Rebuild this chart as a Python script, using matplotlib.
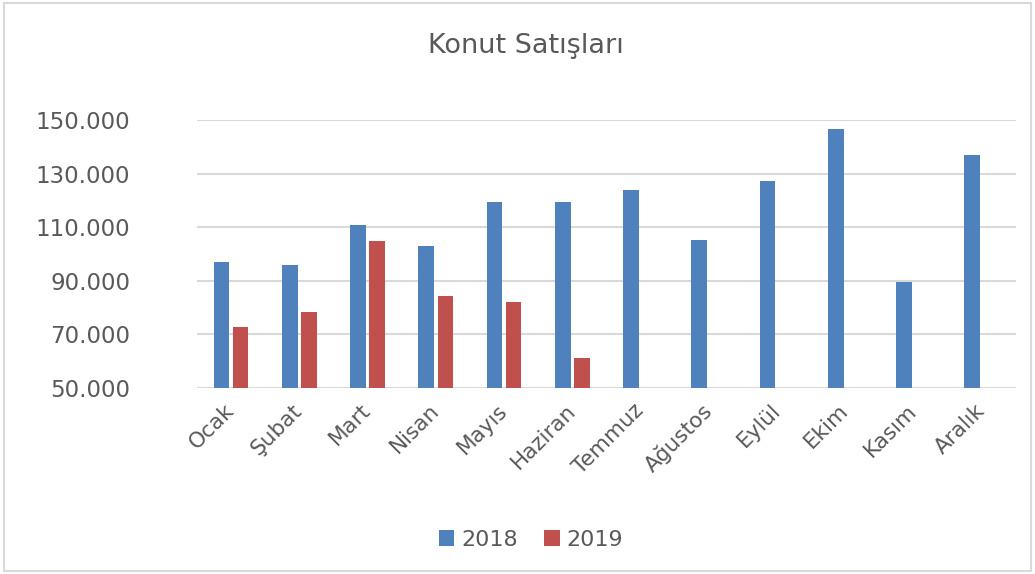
import numpy as np
import matplotlib
matplotlib.use("Agg")
from matplotlib import pyplot as plt
from matplotlib.patches import Rectangle

months = ["Ocak", "Şubat", "Mart", "Nisan", "Mayıs", "Haziran",
          "Temmuz", "Ağustos", "Eylül", "Ekim", "Kasım", "Aralık"]
sales_2018 = [97000, 95900, 110900, 103000, 119500, 119300,
              123900, 105200, 127300, 146500, 89500, 136800]
sales_2019 = [72800, 78400, 105000, 84300, 82200, 61300]
y_ticks = [50000, 70000, 90000, 110000, 130000, 150000]

text_color = "#595959"
grid_color = "#d9d9d9"

fig = plt.figure(figsize=(10.35, 5.74), dpi=100)
ax = fig.add_axes([0.1903, 0.324, 0.7913, 0.467])

x = np.arange(len(months))
width = 0.23
ax.bar(x - 0.14, sales_2018, width, color="#4F81BD", label="2018", zorder=3)
ax.bar(x[:len(sales_2019)] + 0.14, sales_2019, width, color="#C0504D",
       label="2019", zorder=3)

ax.set_xlim(-0.5, len(months) - 0.5)
ax.set_ylim(50000, 150000)
ax.set_yticks(y_ticks)
ax.set_yticklabels([f"{v:,}".replace(",", ".") for v in y_ticks])
ax.yaxis.grid(True, color=grid_color, linewidth=1.5, zorder=0)
ax.set_xticks(x)
ax.set_xticklabels(months, rotation=45, ha="right", va="center",
                   rotation_mode="anchor")
ax.tick_params(axis="y", length=0, pad=48, labelsize=16.5, labelcolor=text_color)
ax.tick_params(axis="x", length=0, pad=14, labelsize=15.5, labelcolor=text_color)
for s in ax.spines.values():
    s.set_visible(False)

fig.text(0.508, 0.92, "Konut Satışları", ha="center", va="center",
         fontsize=19.5, color=text_color)

leg = fig.legend(loc="center", bbox_to_anchor=(0.513, 0.06), ncol=2,
                 frameon=False, fontsize=16, handlelength=0.7,
                 handleheight=0.7, handletextpad=0.3, columnspacing=1.2)
for t in leg.get_texts():
    t.set_color(text_color)

fig.patches.append(Rectangle((0.004, 0.005), 0.992, 0.99, transform=fig.transFigure,
                             fill=False, edgecolor=grid_color, linewidth=1.5))

fig.savefig("out.png", dpi=100)
